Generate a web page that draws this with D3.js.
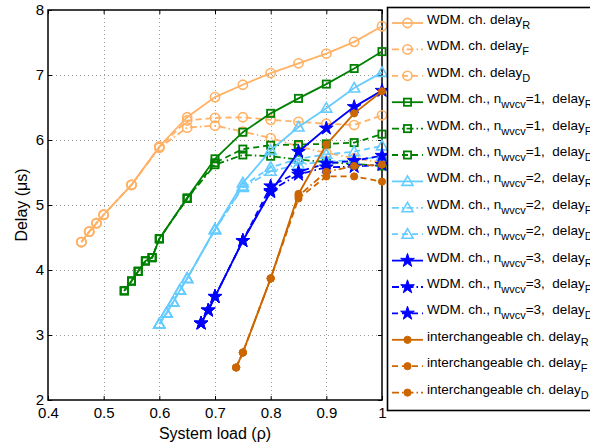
<!DOCTYPE html>
<html>
<head>
<meta charset="utf-8">
<script src="https://cdn.jsdelivr.net/npm/d3@7"></script>
<style>
  body { margin: 0; background: #fff; }
  text { font-family: "Liberation Sans", Arial, Helvetica, sans-serif; }
</style>
</head>
<body>
<div id="chart"></div>
<script>
// loads on the x axis for each family
var xWdm = [0.46, 0.474, 0.487, 0.5, 0.55, 0.6, 0.65, 0.7, 0.75, 0.8, 0.85, 0.9, 0.95, 1.0];
var xN1 = [0.537, 0.55, 0.562, 0.575, 0.587, 0.6, 0.65, 0.7, 0.75, 0.8, 0.85, 0.9, 0.95, 1.0];
var xN2 = [0.6, 0.613, 0.625, 0.637, 0.65, 0.7, 0.75, 0.8, 0.85, 0.9, 0.95, 1.0];
var xN3 = [0.675, 0.688, 0.7, 0.75, 0.8, 0.85, 0.9, 0.95, 1.0];
var xInt = [0.738, 0.75, 0.8, 0.85, 0.9, 0.95, 1.0];

// delays (us)
var wdmR = [4.43, 4.59, 4.72, 4.85, 5.31, 5.9, 6.35, 6.66, 6.85, 7.03, 7.18, 7.33, 7.51, 7.75];
var wdmF = [4.43, 4.59, 4.72, 4.85, 5.31, 5.88, 6.19, 6.22, 6.13, 6.03, 5.9, 5.8, 5.72, 5.65];
var wdmD = [4.43, 4.59, 4.72, 4.85, 5.31, 5.89, 6.3, 6.34, 6.35, 6.31, 6.28, 6.25, 6.23, 6.38];

var n1R = [3.68, 3.83, 3.98, 4.14, 4.19, 4.48, 5.11, 5.71, 6.12, 6.41, 6.64, 6.86, 7.1, 7.36];
var n1F = [3.68, 3.83, 3.98, 4.14, 4.19, 4.48, 5.1, 5.62, 5.77, 5.75, 5.7, 5.66, 5.63, 5.6];
var n1D = [3.68, 3.83, 3.98, 4.14, 4.19, 4.48, 5.1, 5.65, 5.86, 5.92, 5.93, 5.94, 5.96, 6.09];

var n2R = [3.17, 3.34, 3.51, 3.69, 3.87, 4.63, 5.34, 5.84, 6.2, 6.49, 6.8, 7.04];
var n2F = [3.17, 3.34, 3.51, 3.69, 3.87, 4.62, 5.27, 5.52, 5.62, 5.67, 5.69, 5.75];
var n2D = [3.17, 3.34, 3.51, 3.69, 3.87, 4.62, 5.29, 5.58, 5.71, 5.78, 5.82, 5.91];

var n3R = [3.18, 3.38, 3.59, 4.45, 5.2, 5.82, 6.18, 6.51, 6.76];
var n3F = [3.18, 3.38, 3.59, 4.45, 5.22, 5.47, 5.58, 5.59, 5.62];
var n3D = [3.18, 3.38, 3.59, 4.45, 5.29, 5.51, 5.64, 5.68, 5.76];

var intR = [2.5, 2.73, 3.87, 5.17, 5.93, 6.41, 6.75];
var intF = [2.5, 2.73, 3.87, 5.1, 5.44, 5.44, 5.36];
var intD = [2.5, 2.73, 3.87, 5.14, 5.51, 5.6, 5.62];

var xTicks = [0.4, 0.5, 0.6, 0.7, 0.8, 0.9, 1];
var yTicks = [2, 3, 4, 5, 6, 7, 8];

var ORANGE = "#ffb266", GREEN = "#008000", LBLUE = "#66ccff", BLUE = "#0000ff", BROWN = "#cc6600";
var SOLID = null, DASHDOT = "7,3,1.5,3", DASHED = "6,4";

// series list: legend text parts [main, sub, main, sub]
var series = [
	{x: xWdm, y: wdmR, c: ORANGE, dash: SOLID, m: "circle", t: ["WDM. ch. delay", "R"]},
	{x: xWdm, y: wdmF, c: ORANGE, dash: DASHDOT, m: "circle", t: ["WDM. ch. delay", "F"]},
	{x: xWdm, y: wdmD, c: ORANGE, dash: DASHED, m: "circle", t: ["WDM. ch. delay", "D"]},
	{x: xN1, y: n1R, c: GREEN, dash: SOLID, m: "square", t: ["WDM. ch., n", "wvcv", "=1,  delay", "R"]},
	{x: xN1, y: n1F, c: GREEN, dash: DASHDOT, m: "square", t: ["WDM. ch., n", "wvcv", "=1,  delay", "F"]},
	{x: xN1, y: n1D, c: GREEN, dash: DASHED, m: "square", t: ["WDM. ch., n", "wvcv", "=1,  delay", "D"]},
	{x: xN2, y: n2R, c: LBLUE, dash: SOLID, m: "triangle", t: ["WDM. ch., n", "wvcv", "=2,  delay", "R"]},
	{x: xN2, y: n2F, c: LBLUE, dash: DASHDOT, m: "triangle", t: ["WDM. ch., n", "wvcv", "=2,  delay", "F"]},
	{x: xN2, y: n2D, c: LBLUE, dash: DASHED, m: "triangle", t: ["WDM. ch., n", "wvcv", "=2,  delay", "D"]},
	{x: xN3, y: n3R, c: BLUE, dash: SOLID, m: "star", t: ["WDM. ch., n", "wvcv", "=3,  delay", "R"]},
	{x: xN3, y: n3F, c: BLUE, dash: DASHDOT, m: "star", t: ["WDM. ch., n", "wvcv", "=3,  delay", "F"]},
	{x: xN3, y: n3D, c: BLUE, dash: DASHED, m: "star", t: ["WDM. ch., n", "wvcv", "=3,  delay", "D"]},
	{x: xInt, y: intR, c: BROWN, dash: SOLID, m: "dot", t: ["interchangeable ch. delay", "R"]},
	{x: xInt, y: intF, c: BROWN, dash: DASHED, m: "dot", t: ["interchangeable ch. delay", "F"]},
	{x: xInt, y: intD, c: BROWN, dash: DASHDOT, m: "dot", t: ["interchangeable ch. delay", "D"]}
];

var W = 590, H = 448;
var margin = {top: 10, left: 48, right: 208, bottom: 48};

var x = d3.scaleLinear().domain([0.4, 1]).range([margin.left, W - margin.right]);
var y = d3.scaleLinear().domain([2, 8]).range([H - margin.bottom, margin.top]);

var svg = d3.select("#chart").append("svg")
	.attr("width", W)
	.attr("height", H);

// grid
var grid = svg.append("g").attr("class", "grid")
	.attr("stroke", "#9a9a9a")
	.attr("stroke-width", 1)
	.attr("stroke-dasharray", "1,3");
grid.selectAll("line.gx").data(xTicks.slice(1, -1)).enter().append("line")
	.attr("x1", d => Math.round(x(d)) + 0.5).attr("x2", d => Math.round(x(d)) + 0.5)
	.attr("y1", y(8)).attr("y2", y(2));
grid.selectAll("line.gy").data(yTicks.slice(1, -1)).enter().append("line")
	.attr("y1", d => Math.round(y(d)) + 0.5).attr("y2", d => Math.round(y(d)) + 0.5)
	.attr("x1", x(0.4)).attr("x2", x(1));

// axes, ticks pointing in
var xAxis = d3.axisBottom(x).tickValues(xTicks).tickFormat(d => d === 1 ? "1" : d3.format(".1f")(d))
	.tickSizeInner(-4).tickSizeOuter(0).tickPadding(7);
var yAxis = d3.axisLeft(y).tickValues(yTicks).tickFormat(d3.format("d"))
	.tickSizeInner(-4).tickSizeOuter(0).tickPadding(4);
var xTop = d3.axisTop(x).tickValues(xTicks).tickFormat("").tickSizeInner(-4).tickSizeOuter(0);
var yRight = d3.axisRight(y).tickValues(yTicks).tickFormat("").tickSizeInner(-4).tickSizeOuter(0);

function styleAxis(g) {
	g.select(".domain").remove();
	g.selectAll("line").attr("stroke", "#000");
	g.selectAll("text").attr("fill", "#000").style("font-size", "15px");
}

svg.append("g").attr("transform", "translate(0," + y(2) + ")").call(xAxis).call(styleAxis);
svg.append("g").attr("transform", "translate(" + x(0.4) + ",0)").call(yAxis).call(styleAxis);
svg.append("g").attr("transform", "translate(0," + y(8) + ")").call(xTop).call(styleAxis);
svg.append("g").attr("transform", "translate(" + x(1) + ",0)").call(yRight).call(styleAxis);

svg.append("rect")
	.attr("x", x(0.4)).attr("y", y(8))
	.attr("width", x(1) - x(0.4)).attr("height", y(2) - y(8))
	.attr("fill", "none").attr("stroke", "#000").attr("stroke-width", 1.5);

// axis titles
svg.append("text")
	.attr("x", (x(0.4) + x(1)) / 2).attr("y", 439)
	.attr("text-anchor", "middle").style("font-size", "16px")
	.text("System load (ρ)");
svg.append("text")
	.attr("transform", "translate(27," + (y(5)) + ") rotate(-90)")
	.attr("text-anchor", "middle").style("font-size", "16px")
	.text("Delay (μs)");

// markers
var star = d3.symbol().type(d3.symbolStar).size(58);
function drawMarker(g, m, c, cx, cy) {
	if (m === "circle") {
		g.append("circle").attr("cx", cx).attr("cy", cy).attr("r", 4.6)
			.attr("fill", "none").attr("stroke", c).attr("stroke-width", 1.6);
	} else if (m === "square") {
		g.append("rect").attr("x", cx - 3.6).attr("y", cy - 3.6).attr("width", 7.2).attr("height", 7.2)
			.attr("fill", "none").attr("stroke", c).attr("stroke-width", 1.8);
	} else if (m === "triangle") {
		g.append("path")
			.attr("d", "M" + cx + "," + (cy - 5.5) + "L" + (cx + 5.5) + "," + (cy + 4) + "L" + (cx - 5.5) + "," + (cy + 4) + "Z")
			.attr("fill", "none").attr("stroke", c).attr("stroke-width", 1.6);
	} else if (m === "star") {
		g.append("path").attr("d", star()).attr("transform", "translate(" + cx + "," + cy + ")")
			.attr("fill", c).attr("stroke", c).attr("stroke-width", 1);
	} else if (m === "dot") {
		g.append("circle").attr("cx", cx).attr("cy", cy).attr("r", 3.6)
			.attr("fill", c).attr("stroke", c).attr("stroke-width", 1);
	}
}

var line = d3.line().x(d => x(d[0])).y(d => y(d[1]));

var plot = svg.append("g").attr("class", "series");
series.forEach(function(s) {
	var pts = s.x.map((v, i) => [v, s.y[i]]);
	var g = plot.append("g");
	g.append("path").datum(pts)
		.attr("d", line)
		.attr("fill", "none")
		.attr("stroke", s.c)
		.attr("stroke-width", 1.8)
		.attr("stroke-dasharray", s.dash);
	pts.forEach(p => drawMarker(g, s.m, s.c, x(p[0]), y(p[1])));
});

// legend
var leg = svg.append("g").attr("class", "legend");
leg.append("rect")
	.attr("x", 387.5).attr("y", 7.5)
	.attr("width", 240).attr("height", 403)
	.attr("fill", "#fff").attr("stroke", "#000").attr("stroke-width", 1.6);

series.forEach(function(s, i) {
	var ly = 23 + i * 26.4;
	leg.append("line")
		.attr("x1", 392).attr("x2", 423).attr("y1", ly).attr("y2", ly)
		.attr("stroke", s.c).attr("stroke-width", 1.8)
		.attr("stroke-dasharray", s.dash);
	drawMarker(leg, s.m, s.c, 407.5, ly);
	var t = leg.append("text").attr("x", 427).attr("y", ly + 1).style("font-size", "13.5px");
	s.t.forEach(function(part, k) {
		var sp = t.append("tspan").text(part).style("white-space", "pre");
		if (k % 2 === 1) sp.attr("dy", 5).style("font-size", "11px");
		else if (k > 0) sp.attr("dy", -5);
	});
});
</script>
</body>
</html>
